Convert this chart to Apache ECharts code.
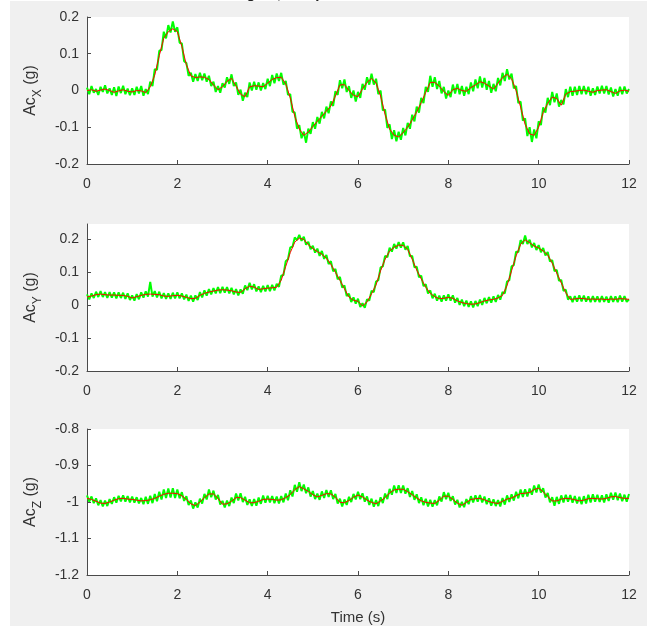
<!DOCTYPE html>
<html>
<head>
<meta charset="utf-8">
<title>Ac</title>
<script src="https://cdn.jsdelivr.net/npm/echarts@6/dist/echarts.min.js"></script>
<style>
  html, body { margin: 0; padding: 0; background: #fff; }
  #main { width: 647px; height: 626px; }
</style>
</head>
<body>
<div id="main"></div>
<script>
// sample spacing (s) of the filtered (red) and raw (green) traces
var DT_FILT = 0.1;
var DT_RAW = 0.05;

/* Ac X : filtered */
var acxFilt = [
  0.000,0.002,-0.002,0.001,0.004,0.000,-0.005,-0.001,0.002,-0.002,
  -0.004,0.000,-0.001,-0.006,0.010,0.042,0.095,0.142,0.160,0.168,
  0.160,0.120,0.070,0.040,0.035,0.037,0.036,0.030,0.015,0.002,
  0.010,0.025,0.033,0.012,-0.010,-0.017,0.010,0.013,0.012,0.010,
  0.020,0.030,0.035,0.036,0.018,-0.020,-0.070,-0.105,-0.122,-0.113,
  -0.098,-0.084,-0.070,-0.056,-0.042,-0.015,0.015,0.016,0.000,-0.013,
  -0.017,0.005,0.022,0.033,0.020,-0.015,-0.065,-0.105,-0.122,-0.126,
  -0.115,-0.100,-0.080,-0.058,-0.033,-0.005,0.022,0.022,0.012,-0.003,
  -0.013,0.002,0.006,0.000,-0.002,0.008,0.015,0.024,0.020,0.012,
  0.004,0.020,0.035,0.044,0.032,0.000,-0.045,-0.092,-0.118,-0.122,
  -0.100,-0.060,-0.035,-0.018,-0.022,-0.040,-0.010,-0.003,-0.002,0.000,
  0.001,-0.002,-0.005,0.000,0.001,0.002,-0.003,-0.008,-0.001,0.001,
  -0.002
];
/* Ac X : raw */
var acxRaw = [
  0.008,-0.010,0.012,-0.006,0.004,-0.012,0.010,-0.004,0.014,-0.008,0.006,-0.012,0.009,-0.015,0.011,-0.007,0.013,-0.010,0.005,-0.013,
  0.006,-0.012,0.010,-0.008,0.012,-0.014,0.004,-0.010,0.024,0.012,0.058,0.056,0.108,0.110,0.160,0.142,0.178,0.158,0.188,0.160,
  0.172,0.130,0.128,0.080,0.075,0.040,0.048,0.024,0.045,0.026,0.048,0.028,0.046,0.024,0.040,0.012,0.024,-0.004,0.012,-0.006,
  0.020,0.008,0.036,0.018,0.044,0.012,0.022,-0.012,0.002,-0.028,-0.006,-0.018,0.022,0.000,0.024,0.002,0.022,0.000,0.020,0.004,
  0.032,0.012,0.042,0.020,0.046,0.026,0.048,0.016,0.026,-0.012,-0.010,-0.058,-0.060,-0.104,-0.094,-0.130,-0.112,-0.142,-0.104,-0.118,
  -0.086,-0.104,-0.072,-0.090,-0.058,-0.076,-0.044,-0.062,-0.030,-0.042,-0.002,-0.012,0.028,0.006,0.030,-0.004,0.012,-0.020,0.000,-0.030,
  -0.004,-0.020,0.018,0.002,0.036,0.016,0.046,0.016,0.032,-0.010,0.000,-0.054,-0.052,-0.102,-0.092,-0.132,-0.108,-0.138,-0.112,-0.134,
  -0.102,-0.122,-0.088,-0.104,-0.066,-0.084,-0.044,-0.060,-0.020,-0.034,0.010,-0.004,0.040,0.010,0.036,0.004,0.026,-0.008,0.010,-0.022,
  0.000,-0.018,0.016,-0.008,0.018,-0.010,0.012,-0.014,0.010,-0.010,0.022,-0.002,0.030,0.006,0.038,0.008,0.034,0.002,0.026,-0.006,
  0.018,-0.002,0.034,0.014,0.048,0.026,0.058,0.030,0.046,0.006,0.012,-0.034,-0.030,-0.082,-0.076,-0.124,-0.100,-0.140,-0.106,-0.130,
  -0.084,-0.094,-0.046,-0.060,-0.020,-0.040,-0.004,-0.032,-0.008,-0.044,-0.026,-0.038,0.004,-0.018,0.010,-0.014,0.010,-0.012,0.012,-0.010,
  0.012,-0.010,0.010,-0.014,0.006,-0.012,0.011,-0.008,0.013,-0.008,0.012,-0.011,0.008,-0.016,0.004,-0.014,0.010,-0.010,0.011,-0.008,
  0.004
];

/* Ac Y : filtered */
var acyFilt = [
  0.025,0.028,0.032,0.034,0.032,0.031,0.031,0.030,0.030,0.027,
  0.022,0.026,0.030,0.033,0.034,0.033,0.032,0.028,0.027,0.029,
  0.030,0.028,0.024,0.020,0.021,0.030,0.036,0.040,0.043,0.046,
  0.047,0.046,0.044,0.040,0.039,0.050,0.058,0.055,0.048,0.050,
  0.052,0.053,0.055,0.076,0.118,0.160,0.192,0.204,0.200,0.184,
  0.172,0.163,0.155,0.143,0.124,0.100,0.076,0.050,0.025,0.015,
  0.012,-0.002,0.010,0.035,0.062,0.105,0.140,0.165,0.176,0.183,
  0.182,0.170,0.140,0.107,0.080,0.055,0.036,0.026,0.020,0.021,
  0.024,0.021,0.013,0.008,0.005,0.003,0.004,0.008,0.013,0.016,
  0.018,0.022,0.030,0.060,0.105,0.150,0.185,0.199,0.190,0.180,
  0.174,0.165,0.153,0.128,0.098,0.068,0.038,0.018,0.019,0.021,
  0.020,0.018,0.019,0.018,0.019,0.017,0.019,0.018,0.020,0.019,
  0.018
];
/* Ac Y : raw */
var acyRaw = [
  0.033,0.018,0.036,0.022,0.041,0.025,0.043,0.025,0.040,0.022,0.040,0.023,0.039,0.021,0.039,0.022,0.038,0.019,0.036,0.016,
  0.030,0.014,0.034,0.018,0.039,0.023,0.042,0.026,0.071,0.026,0.043,0.024,0.041,0.021,0.037,0.019,0.036,0.019,0.038,0.021,
  0.039,0.021,0.036,0.018,0.032,0.013,0.029,0.011,0.030,0.016,0.040,0.024,0.045,0.029,0.049,0.033,0.052,0.036,0.055,0.037,
  0.056,0.038,0.055,0.036,0.053,0.033,0.049,0.030,0.048,0.035,0.060,0.046,0.068,0.048,0.064,0.042,0.057,0.040,0.059,0.042,
  0.061,0.043,0.062,0.045,0.065,0.056,0.090,0.092,0.134,0.140,0.176,0.178,0.206,0.198,0.214,0.196,0.208,0.184,0.193,0.170,
  0.181,0.160,0.172,0.150,0.165,0.141,0.153,0.125,0.134,0.103,0.110,0.079,0.086,0.054,0.060,0.028,0.035,0.010,0.024,0.005,
  0.020,-0.005,0.006,-0.008,0.018,0.014,0.044,0.040,0.072,0.076,0.115,0.118,0.150,0.146,0.175,0.163,0.186,0.172,0.192,0.175,
  0.191,0.169,0.180,0.149,0.150,0.115,0.117,0.085,0.090,0.058,0.064,0.036,0.045,0.021,0.035,0.014,0.029,0.011,0.030,0.014,
  0.033,0.014,0.030,0.008,0.022,0.001,0.017,-0.003,0.014,-0.005,0.012,-0.007,0.013,-0.003,0.017,0.001,0.022,0.006,0.025,0.008,
  0.027,0.010,0.031,0.017,0.040,0.036,0.072,0.076,0.118,0.122,0.163,0.162,0.198,0.186,0.212,0.186,0.199,0.176,0.189,0.168,
  0.183,0.161,0.174,0.151,0.162,0.133,0.137,0.104,0.107,0.074,0.077,0.044,0.047,0.017,0.027,0.009,0.028,0.011,0.030,0.012,
  0.029,0.011,0.027,0.009,0.028,0.010,0.027,0.009,0.028,0.010,0.026,0.008,0.028,0.010,0.027,0.009,0.029,0.011,0.028,0.010,
  0.018
];

/* Ac Z : filtered */
var aczFilt = [
  -0.990,-0.993,-0.998,-1.003,-1.004,-1.000,-0.995,-0.991,-0.990,-0.992,
  -0.993,-0.995,-0.997,-0.996,-0.994,-0.990,-0.984,-0.979,-0.976,-0.976,
  -0.977,-0.983,-0.993,-1.005,-1.010,-1.000,-0.988,-0.978,-0.978,-0.990,
  -1.006,-1.005,-0.998,-0.988,-0.988,-0.995,-1.002,-1.002,-0.998,-0.993,
  -0.992,-0.993,-0.995,-0.994,-0.988,-0.980,-0.966,-0.958,-0.964,-0.971,
  -0.980,-0.986,-0.982,-0.977,-0.978,-0.987,-1.001,-1.002,-0.996,-0.987,
  -0.981,-0.986,-0.995,-1.001,-1.005,-0.997,-0.988,-0.975,-0.967,-0.965,
  -0.965,-0.972,-0.980,-0.989,-0.997,-1.001,-1.003,-1.004,-0.995,-0.984,
  -0.984,-0.993,-1.003,-1.009,-1.001,-0.993,-0.991,-0.990,-0.994,-0.999,
  -1.002,-1.004,-0.998,-0.992,-0.989,-0.983,-0.977,-0.976,-0.974,-0.966,
  -0.962,-0.972,-0.985,-0.997,-0.997,-0.992,-0.990,-0.991,-0.994,-0.997,
  -0.995,-0.991,-0.990,-0.991,-0.992,-0.990,-0.986,-0.985,-0.988,-0.990,
  -0.990
];
/* Ac Z : raw */
var aczRaw = [
  -0.982,-0.999,-0.985,-1.003,-0.990,-1.009,-0.995,-1.012,-0.996,-1.011,-0.992,-1.005,-0.987,-1.002,-0.983,-0.998,-0.982,-0.999,-0.984,-1.001,
  -0.985,-1.002,-0.987,-1.004,-0.989,-1.006,-0.986,-1.005,-0.983,-1.003,-0.978,-0.998,-0.972,-0.993,-0.966,-0.989,-0.963,-0.988,-0.962,-0.989,
  -0.966,-0.990,-0.973,-0.997,-0.984,-1.008,-0.996,-1.018,-1.001,-1.015,-0.991,-1.004,-0.978,-0.993,-0.966,-0.987,-0.969,-0.993,-0.981,-1.007,
  -0.997,-1.015,-0.996,-1.011,-0.988,-1.003,-0.977,-0.996,-0.976,-1.000,-0.986,-1.008,-0.993,-1.011,-0.992,-1.010,-0.988,-1.005,-0.982,-1.002,
  -0.983,-1.001,-0.984,-1.003,-0.985,-1.004,-0.984,-1.001,-0.977,-0.995,-0.968,-0.985,-0.953,-0.972,-0.946,-0.970,-0.952,-0.976,-0.960,-0.985,
  -0.970,-0.992,-0.977,-0.994,-0.971,-0.989,-0.967,-0.986,-0.968,-0.992,-0.978,-1.004,-0.991,-1.012,-0.993,-1.008,-0.986,-1.000,-0.978,-0.993,
  -0.972,-0.992,-0.976,-0.999,-0.985,-1.008,-0.991,-1.013,-0.995,-1.011,-0.987,-1.003,-0.977,-0.992,-0.964,-0.980,-0.955,-0.975,-0.954,-0.975,
  -0.955,-0.977,-0.962,-0.986,-0.970,-0.994,-0.979,-1.003,-0.987,-1.009,-0.991,-1.012,-0.994,-1.013,-0.995,-1.009,-0.985,-0.999,-0.973,-0.992,
  -0.975,-0.997,-0.984,-1.007,-0.994,-1.015,-1.000,-1.014,-0.992,-1.006,-0.984,-1.001,-0.982,-0.999,-0.981,-1.001,-0.985,-1.006,-0.990,-1.010,
  -0.993,-1.011,-0.995,-1.012,-0.989,-1.007,-0.982,-1.000,-0.979,-0.996,-0.972,-0.990,-0.966,-0.986,-0.965,-0.985,-0.963,-0.980,-0.955,-0.974,
  -0.952,-0.974,-0.962,-0.988,-0.975,-1.001,-0.987,-1.010,-0.986,-1.005,-0.982,-1.001,-0.980,-0.999,-0.981,-1.002,-0.984,-1.004,-0.986,-1.006,
  -0.984,-1.004,-0.980,-1.001,-0.979,-0.999,-0.980,-1.000,-0.982,-1.001,-0.979,-0.997,-0.975,-0.994,-0.974,-0.995,-0.977,-0.998,-0.980,-0.999,
  -0.978
];

var yNames = ['{a|Ac}{s|X}{a| (g)}', '{a|Ac}{s|Y}{a| (g)}', '{a|Ac}{s|Z}{a| (g)}'];
var yRanges = [[-0.2, 0.2], [-0.2, 0.247], [-1.2, -0.8]];
var xTitle = 'Time (s)';

function toPairs(values, dt) {
    return values.map(function (v, i) { return [+(i * dt).toFixed(2), v]; });
}

var myChart = echarts.init(document.getElementById('main'));

var FONT = 'Liberation Sans, Arial, Helvetica, sans-serif';
var AXIS_COLOR = '#4a4a4a';
var TEXT_COLOR = '#333333';
var gridTops = [17, 224, 429];

var grids = [], xAxes = [], yAxes = [], series = [];
var raws = [acxRaw, acyRaw, aczRaw];
var filts = [acxFilt, acyFilt, aczFilt];

for (var i = 0; i < 3; i++) {
    grids.push({
        left: 87, top: gridTops[i], width: 542, height: 147,
        show: true, backgroundColor: '#ffffff', borderWidth: 0
    });
    xAxes.push({
        gridIndex: i, type: 'value', min: 0, max: 12, interval: 2,
        name: i === 2 ? xTitle : '',
        nameLocation: 'middle', nameGap: 35,
        nameTextStyle: { color: TEXT_COLOR, fontSize: 15, fontFamily: FONT },
        axisLine: { show: true, onZero: false, lineStyle: { color: AXIS_COLOR, width: 1 } },
        axisTick: { show: true, inside: true, length: 4, lineStyle: { color: AXIS_COLOR } },
        axisLabel: { color: TEXT_COLOR, fontSize: 14, fontFamily: FONT, margin: 13 },
        splitLine: { show: false }
    });
    yAxes.push({
        gridIndex: i, type: 'value', min: yRanges[i][0], max: yRanges[i][1], interval: 0.1,
        name: yNames[i], nameLocation: 'middle', nameGap: 46, nameRotate: 90,
        nameTextStyle: {
            rich: {
                a: { fontSize: 16, lineHeight: 18, verticalAlign: 'top', color: TEXT_COLOR, fontFamily: FONT },
                s: { fontSize: 12, lineHeight: 12, verticalAlign: 'top', padding: [9, 0, 0, 0], color: TEXT_COLOR, fontFamily: FONT }
            }
        },
        axisLine: { show: true, onZero: false, lineStyle: { color: AXIS_COLOR, width: 1 } },
        axisTick: { show: true, inside: true, length: 4, lineStyle: { color: AXIS_COLOR } },
        axisLabel: {
            color: TEXT_COLOR, fontSize: 14, fontFamily: FONT, margin: 8,
            showMaxLabel: i !== 1,
            formatter: function (v) { return +v.toFixed(2) + ''; }
        },
        splitLine: { show: false }
    });
    series.push({
        type: 'line', xAxisIndex: i, yAxisIndex: i,
        data: toPairs(raws[i], DT_RAW),
        showSymbol: false, silent: true,
        lineStyle: { color: '#00ff00', width: 2 }
    });
    series.push({
        type: 'line', xAxisIndex: i, yAxisIndex: i,
        data: toPairs(filts[i], DT_FILT),
        showSymbol: false, silent: true, z: 3,
        lineStyle: { color: '#ff0000', width: 1 }
    });
}

var option = {
    animation: false,
    backgroundColor: '#f0f0f0',
    graphic: [
        { type: 'rect', shape: { x: 0, y: 0, width: 10, height: 626 }, style: { fill: '#ffffff' }, silent: true },
        { type: 'rect', shape: { x: 0, y: 0, width: 647, height: 1 }, style: { fill: '#ffffff' }, silent: true },
        {
            type: 'text', x: 197, y: 1, silent: true,
            style: {
                text: 'Raw Signal, Lowpass Filtered Acceleration',
                font: 'bold 15px Liberation Sans', fill: '#222222',
                textAlign: 'left', textVerticalAlign: 'bottom'
            }
        }
    ],
    grid: grids,
    xAxis: xAxes,
    yAxis: yAxes,
    series: series
};
myChart.setOption(option);
</script>
</body>
</html>
